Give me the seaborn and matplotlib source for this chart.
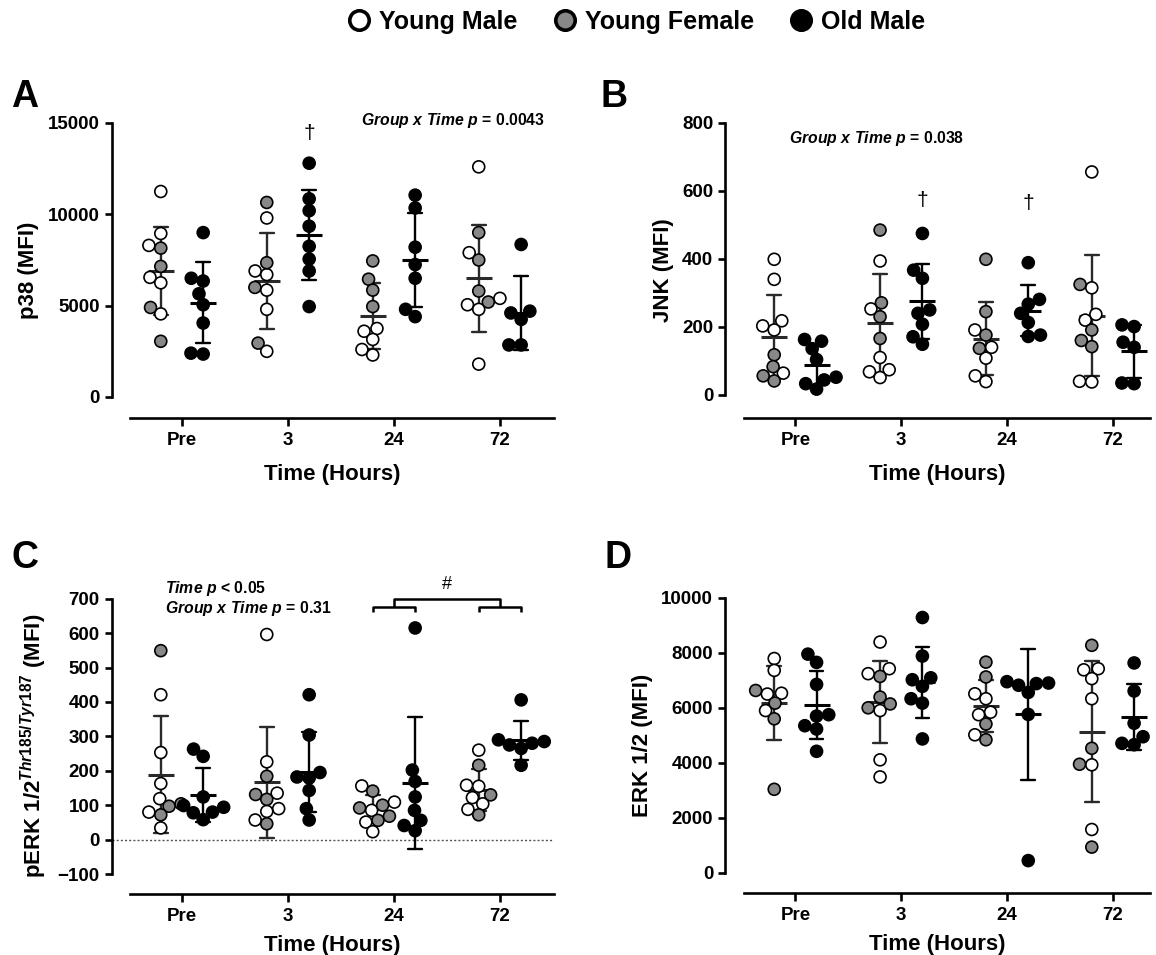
import numpy as np
import pandas as pd
import matplotlib
matplotlib.use("Agg")
import matplotlib.pyplot as plt
import seaborn as sns
from matplotlib.lines import Line2D
from matplotlib.collections import PathCollection

# ---------------- data ----------------
TIMES = ["Pre", "3", "24", "72"]
GROUPS = ["Young", "Old"]

# Panel A: p38 (MFI)
P38_YM = [[11250, 8950, 8300, 6550, 6250, 4550], [9800, 6900, 6700, 5850, 4800, 2500],
          [3750, 3600, 3150, 2600, 2300], [12600, 7900, 5400, 5050, 4800, 1800]]
P38_YF = [[8150, 7150, 4900, 3050], [10650, 7350, 6000, 2950],
          [7450, 6450, 5850, 4950], [9000, 7500, 5800, 5200]]
P38_OM = [[9000, 6500, 6350, 5650, 5050, 4050, 2350, 2400],
          [12800, 10850, 10200, 9350, 8250, 7550, 6900, 4950],
          [11050, 10350, 8200, 7250, 6500, 4800, 4400],
          [8350, 4700, 4600, 4250, 2850, 2850]]

# Panel B: JNK (MFI)
JNK_YM = [[399, 340, 218, 203, 191, 64], [394, 253, 110, 74, 68, 51],
          [191, 140, 108, 56, 39], [656, 315, 237, 220, 40, 38]]
JNK_YF = [[118, 83, 56, 41], [485, 271, 230, 166],
          [399, 245, 176, 137], [325, 191, 160, 142]]
JNK_OM = [[163, 158, 136, 104, 52, 44, 33, 17],
          [475, 367, 343, 250, 240, 208, 171, 149],
          [389, 281, 267, 240, 213, 176, 172],
          [206, 201, 155, 140, 35, 33]]

# Panel C: pERK 1/2 (MFI)
PERK_YM = [[421, 253, 163, 119, 80, 34], [596, 226, 135, 90, 82, 57],
           [156, 109, 85, 51, 23], [260, 158, 155, 122, 104, 88]]
PERK_YF = [[549, 104, 97, 72], [184, 131, 117, 46],
           [141, 100, 92, 68, 56], [216, 130, 72]]
PERK_OM = [[263, 242, 124, 99, 94, 80, 78, 58],
           [421, 304, 195, 182, 179, 143, 90, 57],
           [615, 202, 169, 124, 85, 56, 41, 26],
           [406, 290, 285, 280, 275, 265, 216]]

# Panel D: ERK 1/2 (MFI)
ERK_YM = [[7790, 7360, 6530, 6500, 5900], [8390, 7420, 7240, 5900, 4110, 3490],
          [6510, 6330, 5840, 5750, 5020], [7380, 7420, 7060, 6330, 3930, 1580]]
ERK_YF = [[6630, 6170, 5600, 3040], [7140, 6390, 6140, 6000],
          [7660, 7120, 5410, 4840], [8270, 4530, 3950, 940]]
ERK_OM = [[7950, 7650, 6850, 5750, 5700, 5350, 5230, 4420],
          [9280, 7880, 7090, 7020, 6780, 6330, 6170, 4870],
          [6950, 6900, 6880, 6820, 6560, 5760, 450],
          [7630, 6610, 5440, 4950, 4710, 4660]]

GRAY = "#888888"
LAYOUT_SIZE = 7.2    # marker size used for the swarm layout (allows some overlap like Prism)
MARKER_SIZE = 8.6    # drawn marker size

# ---------------- style ----------------
sns.set_theme(style="ticks")
plt.rcParams["font.family"] = ["Liberation Sans", "DejaVu Sans"]
plt.rcParams["font.weight"] = "bold"
plt.rcParams["axes.labelweight"] = "bold"
plt.rcParams["text.color"] = "black"
plt.rcParams["axes.labelcolor"] = "black"
plt.rcParams["xtick.color"] = "black"
plt.rcParams["ytick.color"] = "black"
plt.rcParams["mathtext.fontset"] = "custom"
plt.rcParams["mathtext.it"] = "Liberation Sans:italic:bold"
plt.rcParams["mathtext.rm"] = "Liberation Sans:bold"
plt.rcParams["mathtext.bf"] = "Liberation Sans:bold"


def make_df(ym, yf, om):
    rows = []
    for t, a, b, c in zip(TIMES, ym, yf, om):
        rows += [(t, "Young", "Male", v) for v in a]
        rows += [(t, "Young", "Female", v) for v in b]
        rows += [(t, "Old", "Male", v) for v in c]
    return pd.DataFrame(rows, columns=["time", "group", "sex", "value"])


def draw(ax, ym, yf, om, ylim, yticks, ylabel, xmax, xpad):
    df = make_df(ym, yf, om)
    sns.swarmplot(data=df, x="time", y="value", hue="group", order=TIMES,
                  hue_order=GROUPS, dodge=True,
                  palette={"Young": "white", "Old": "black"},
                  size=LAYOUT_SIZE, edgecolor="black", linewidth=1.2, legend=False,
                  warn_thresh=1, ax=ax)

    sns.pointplot(data=df, x="time", y="value", hue="group", order=TIMES,
                  hue_order=GROUPS, dodge=0.4,
                  palette={"Young": "#2a2a2a", "Old": "#000000"},
                  errorbar="sd", capsize=0.13, markers="_", markersize=19,
                  markeredgewidth=2.2, linestyles="none",
                  err_kws={"linewidth": 1.7}, legend=False, ax=ax)

    ax.set_xlim(-0.665, xmax)
    ax.set_ylim(*ylim)
    ax.set_yticks(yticks)
    ax.set_xticks(range(len(TIMES)))
    ax.set_xticklabels(TIMES)
    sns.despine(ax=ax)
    ax.spines["left"].set_bounds(yticks[0], yticks[-1])
    ax.spines["bottom"].set_bounds(-0.49, xmax)
    for s in ("left", "bottom"):
        ax.spines[s].set_linewidth(1.9)
        ax.spines[s].set_color("black")
    ax.tick_params(axis="both", width=1.9, length=5, labelsize=13.5,
                   colors="black")
    ax.tick_params(axis="x", length=6, pad=4)
    ax.set_xlabel("Time (Hours)", fontsize=16, fontweight="bold", labelpad=xpad)
    ax.set_ylabel(ylabel, fontsize=16, fontweight="bold", labelpad=6)
    ax.grid(False)


def finalize_points(ax, yf):
    """Freeze the swarm layout, enlarge markers, grey-fill young females."""
    for coll in ax.collections:
        if not isinstance(coll, PathCollection):
            continue
        offs = coll.get_offsets()
        if len(offs) == 0:
            continue
        if "draw" in coll.__dict__:
            del coll.draw
        coll.set_sizes([MARKER_SIZE ** 2])
        mx = np.mean(offs[:, 0])
        i = int(round(mx))
        young = mx < i
        fcs = []
        for x, y in offs:
            if young:
                fcs.append(GRAY if any(np.isclose(y, v) for v in yf[i]) else "white")
            else:
                fcs.append("black")
        coll.set_facecolors(fcs)
        coll.set_edgecolors("black")
        coll.set_linewidths(1.2)


fig = plt.figure(figsize=(11.56, 9.55), dpi=100)
W, H = 1156, 955


def axes_px(left, top, right, bottom):
    return fig.add_axes([left / W, 1 - bottom / H, (right - left) / W, (bottom - top) / H])


axA = axes_px(111.5, 123, 554, 418)
axB = axes_px(725, 123, 1150, 418)
axC = axes_px(111.5, 598.7, 554, 894)
axD = axes_px(725, 597.7, 1150, 893)

draw(axA, P38_YM, P38_YF, P38_OM, (-1150, 15000), [0, 5000, 10000, 15000],
     "p38 (MFI)", 3.51, 11)
draw(axB, JNK_YM, JNK_YF, JNK_OM, (-68, 800), [0, 200, 400, 600, 800],
     "JNK (MFI)", 3.35, 11)
draw(axC, PERK_YM, PERK_YF, PERK_OM, (-158, 700),
     [-100, 0, 100, 200, 300, 400, 500, 600, 700],
     r"pERK 1/2$^{\mathit{Thr185/Tyr187}}$ (MFI)", 3.51, 7)
draw(axD, ERK_YM, ERK_YF, ERK_OM, (-727, 10000), [0, 2000, 4000, 6000, 8000, 10000],
     "ERK 1/2 (MFI)", 3.35, 7)

# compute swarm layout with the layout size, then freeze it
fig.canvas.draw()
finalize_points(axA, P38_YF)
finalize_points(axB, JNK_YF)
finalize_points(axC, PERK_YF)
finalize_points(axD, ERK_YF)

# zero reference line in C
axC.axhline(0, color="#555555", lw=1.0, ls=(0, (1.5, 1.5)), zorder=0)

# statistics annotations
axA.text(0.98, 1.008, r"$\mathit{Group\ x\ Time\ p}$ = 0.0043", transform=axA.transAxes,
         ha="right", va="center", fontsize=11.3, fontweight="bold")
axB.text(0.15, 0.946, r"$\mathit{Group\ x\ Time\ p}$ = 0.038", transform=axB.transAxes,
         ha="left", va="center", fontsize=11.3, fontweight="bold")
axC.text(0.121, 1.034, r"$\mathit{Time\ p}$ < 0.05", transform=axC.transAxes,
         ha="left", va="center", fontsize=11.3, fontweight="bold")
axC.text(0.121, 0.968, r"$\mathit{Group\ x\ Time\ p}$ = 0.31", transform=axC.transAxes,
         ha="left", va="center", fontsize=11.3, fontweight="bold")

# daggers
axA.text(1.2, 14450, "\u2020", ha="center", va="center", fontsize=15, fontweight="normal")
axB.text(1.2, 573, "\u2020", ha="center", va="center", fontsize=15, fontweight="normal")
axB.text(2.2, 564, "\u2020", ha="center", va="center", fontsize=15, fontweight="normal")

# bracket with # in C
bk = dict(color="black", lw=1.8, clip_on=False, solid_capstyle="butt")
axC.plot([1.8, 1.8, 2.2, 2.2], [662, 675, 675, 662], **bk)
axC.plot([2.8, 2.8, 3.2, 3.2], [662, 675, 675, 662], **bk)
axC.plot([2.0, 2.0, 3.0, 3.0], [675, 699, 699, 675], **bk)
axC.text(2.5, 742, "#", ha="center", va="center", fontsize=13, fontweight="normal")

# panel letters
for lab, (px, py) in {"A": (25, 97), "B": (614, 97), "C": (25, 558), "D": (618, 558)}.items():
    fig.text(px / W, 1 - py / H, lab, fontsize=27, fontweight="bold",
             ha="center", va="center")

# legend
handles = [
    Line2D([], [], marker="o", ls="", markersize=14, markerfacecolor="white",
           markeredgecolor="black", markeredgewidth=2.6),
    Line2D([], [], marker="o", ls="", markersize=14, markerfacecolor=GRAY,
           markeredgecolor="black", markeredgewidth=2.6),
    Line2D([], [], marker="o", ls="", markersize=14, markerfacecolor="black",
           markeredgecolor="black", markeredgewidth=2.6),
]
fig.legend(handles, ["Young Male", "Young Female", "Old Male"], loc="center",
           bbox_to_anchor=(0.55, 1 - 22 / H), ncol=3, frameon=False,
           prop={"weight": "bold", "size": 18}, handlelength=1.0,
           handletextpad=0.3, columnspacing=1.4)

fig.savefig("out.png", dpi=100)
